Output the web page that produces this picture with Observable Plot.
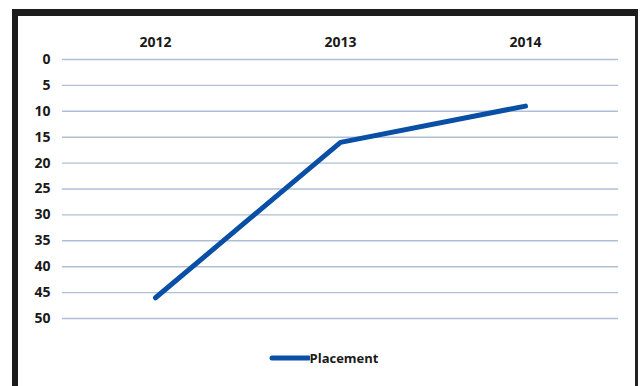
<!DOCTYPE html>
<html>
<head>
<meta charset="utf-8">
<script src="https://cdn.jsdelivr.net/npm/d3@7"></script>
<script src="https://cdn.jsdelivr.net/npm/@observablehq/plot@0.6"></script>
<style>
  html, body { margin: 0; padding: 0; background: #fff; width: 641px; height: 386px; overflow: hidden; }
  #frame {
    position: absolute; left: 12px; top: 9px; width: 617px; height: 377px;
    border-left: 6px solid #1c1c1c; border-top: 7px solid #1c1c1c; border-right: 3px solid #222;
    box-sizing: content-box;
  }
  #frame svg.plot text { font-size: 14px; font-weight: bold; fill: #1a1a1a; }
  #legend {
    display: flex; justify-content: center; align-items: center; gap: 0;
    font-family: "Open Sans", sans-serif; font-weight: bold; font-size: 13px; color: #1a1a1a;
    margin-top: 13px; margin-left: -6px;
  }
  #legend svg { display: block; }
</style>
</head>
<body>
<div id="frame"></div>
<script>
const years = ["2012", "2013", "2014"];
const placement = [46, 16, 9];
const yTicks = [0, 5, 10, 15, 20, 25, 30, 35, 40, 45, 50];
const seriesName = "Placement";

const data = years.map((y, i) => ({year: y, value: placement[i]}));

const lineColor = "#0a4fa6";
const gridColor = "#aebfd6";

const chart = Plot.plot({
  width: 617,
  height: 320,
  marginLeft: 44,
  marginRight: 17,
  marginTop: 43,
  marginBottom: 18,
  className: "plot",
  style: {fontFamily: "Open Sans, sans-serif", fontSize: "14px", fontWeight: "bold", color: "#1a1a1a", background: "transparent"},
  x: {type: "point", domain: years, padding: 0.5},
  y: {domain: [0, 50], reverse: true},
  marks: [
    Plot.ruleY(yTicks, {stroke: gridColor, strokeWidth: 1.4, strokeOpacity: 1}),
    Plot.axisX({anchor: "top", tickSize: 0, tickPadding: 13, label: null, fontSize: 14, fontWeight: "bold"}),
    Plot.axisY({ticks: yTicks, tickSize: 0, tickPadding: 12, label: null, fontSize: 14, fontWeight: "bold"}),
    Plot.line(data, {x: "year", y: "value", stroke: lineColor, strokeWidth: 5, strokeLinecap: "round", strokeLinejoin: "round"})
  ]
});

const frame = document.getElementById("frame");
frame.appendChild(chart);

const legend = document.createElement("div");
legend.id = "legend";
legend.innerHTML = `<svg width="41" height="10"><line x1="3" y1="5" x2="40" y2="5" stroke="${lineColor}" stroke-width="5" stroke-linecap="round"/></svg><span>${seriesName}</span>`;
frame.appendChild(legend);
</script>
</body>
</html>
